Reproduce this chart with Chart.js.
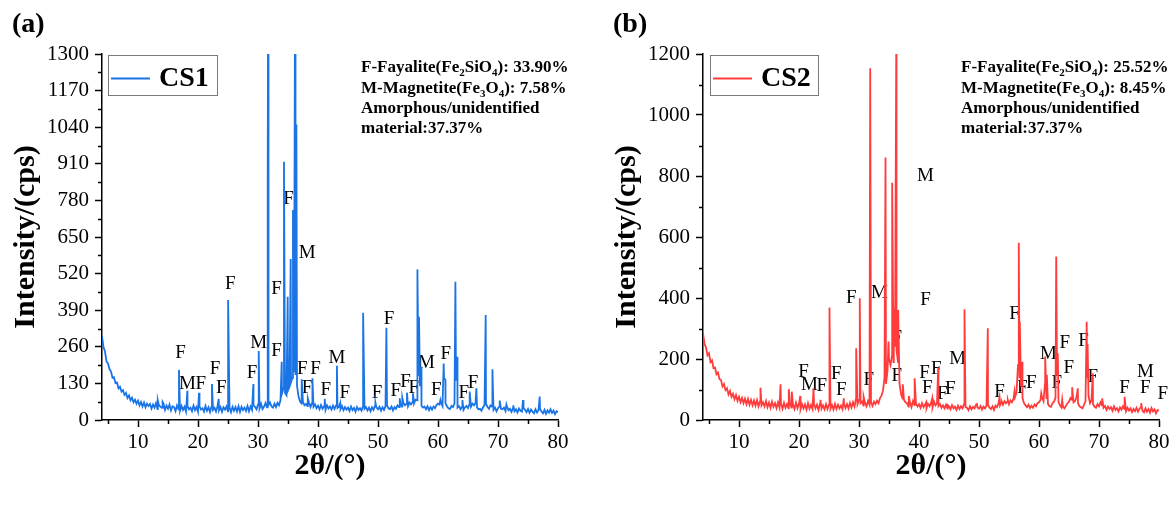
<!DOCTYPE html>
<html>
<head>
<meta charset="utf-8">
<script src="https://cdn.jsdelivr.net/npm/chart.js@4.4.1/dist/chart.umd.min.js"></script>
<style>
  html, body { margin: 0; padding: 0; background: #fff; }
  body { width: 1176px; height: 505px; position: relative; overflow: hidden; }
  canvas { position: absolute; top: 0; }
  #cs1 { left: 0; }
  #cs2 { left: 601px; }
</style>
</head>
<body>
<canvas id="cs1" width="588" height="505"></canvas>
<canvas id="cs2" width="575" height="505"></canvas>
<script>
// ---- 2θ sampling of the background traces ----
const THETA_START = 4;
const THETA_STEP = 0.25;

// ---- axis ticks ----
const xTicks = [10, 20, 30, 40, 50, 60, 70, 80];
const xMinorTicks = [5, 15, 25, 35, 45, 55, 65, 75];
const cs1YTicks = [0, 130, 260, 390, 520, 650, 780, 910, 1040, 1170, 1300];
const cs1YMinorTicks = [65, 195, 325, 455, 585, 715, 845, 975, 1105, 1235];
const cs2YTicks = [0, 200, 400, 600, 800, 1000, 1200];
const cs2YMinorTicks = [100, 300, 500, 700, 900, 1100];

// ---- CS1: background counts, one row per degree (4 points per row) ----
const cs1Background = [
  298,259,243,208,  201,181,172,150,  152,131,133,112,  118,101,106,89,
  96,78,87,70,      79,63,72,58,      69,52,64,48,      62,45,58,50,
  57,41,55,44,      60,39,52,47,      43,58,36,51,      40,55,34,49,
  46,31,52,38,      33,50,36,47,      30,49,38,44,      31,51,35,46,
  29,48,37,42,      30,50,33,45,      28,47,36,43,      30,49,34,46,
  29,45,37,48,      31,44,28,47,      33,46,30,49,      29,47,35,44,
  32,50,31,48,      36,52,47,38,      55,41,58,39,      47,60,45,53,
  62,48,44,58,      46,61,52,70,      94,112,96,88,     105,118,134,150,
  170,160,122,84,   66,58,63,52,      57,49,62,46,      60,47,55,42,
  51,38,53,40,      49,36,52,41,      48,37,51,39,      52,43,47,38,
  49,35,46,37,      44,32,48,35,      43,30,46,36,      42,33,49,40,
  46,34,44,31,      45,36,50,44,      38,47,33,45,      36,49,52,41,
  39,48,34,46,      40,52,46,55,      48,60,52,57,      49,62,55,63,
  58,72,70,160,     120,50,44,48,     38,49,35,46,      37,48,42,53,
  58,55,62,50,      150,60,48,42,     39,50,46,58,      140,44,49,38,
  47,36,45,50,      42,55,47,58,      52,60,45,38,      40,33,45,52,
  58,46,40,52,      48,36,44,31,      42,48,40,38,      44,32,48,35,
  40,29,42,31,      38,27,41,33,      30,43,36,28,      39,26,37,30,
  24,38,27,35,      40,30,24,36,      22,34,26,38,      25,33,21,31,
  28
];

// ---- CS1: diffraction peaks [2θ, counts] ----
const cs1Peaks = [
  [13.3,70],[14.1,64],[16.83,178],[18.23,104],[20.17,97],[22.33,128],[23.45,75],
  [25.02,426],[29.23,128],[30.12,245],[31.62,860],[31.72,1900],[33.95,207],
  [34.33,917],[34.95,438],[35.45,572],[35.83,746],[36.17,1500],[36.4,1050],
  [37.28,145],[38.3,77],[39.07,148],[41.12,75],[43.15,193],[43.7,60],
  [47.52,381],[49.57,62],[51.4,328],[53.62,77],[54.05,80],[54.83,97],[55.83,95],
  [56.57,535],[56.83,367],[57.2,189],[60.4,71],[60.95,201],[61.23,142],
  [62.9,491],[63.23,225],[64.07,71],[65.28,101],[66.4,113],[67.95,373],
  [69.07,180],[70.28,69],[71.4,55],[72.55,52],[74.17,71],[76.95,83]
];

// ---- CS2: background counts, one row per degree (4 points per row) ----
const cs2Background = [
  284,250,238,212,  219,190,196,170,  172,150,156,134,  131,110,118,98,
  104,84,95,76,     86,68,82,63,      76,58,72,55,      70,52,69,50,
  66,48,64,47,      65,45,61,48,      58,44,62,42,      57,40,60,43,
  55,39,58,41,      53,37,56,40,      52,38,55,41,      50,36,57,39,
  53,35,52,38,      51,34,55,37,      49,36,53,38,      50,33,54,37,
  48,35,52,36,      51,37,49,34,      53,36,50,38,      47,35,54,39,
  52,38,56,41,      58,44,70,52,      66,55,60,47,      56,45,62,50,
  58,46,60,52,      63,55,72,80,      96,140,118,160,   200,180,210,190,
  240,230,190,120,  85,70,66,58,      55,44,58,42,      62,49,53,44,
  52,40,55,42,      50,38,53,45,      56,41,60,48,      55,46,52,40,
  48,38,50,37,      46,35,49,38,      44,33,47,36,      45,38,52,42,
  40,32,45,35,      43,38,50,41,      37,46,34,44,      38,47,50,40,
  36,45,33,47,      42,55,48,58,      50,62,55,60,      52,64,58,70,
  75,90,180,140,    110,72,55,48,     42,50,39,47,      40,51,45,55,
  58,66,75,62,      120,72,52,45,     43,55,60,72,      150,58,48,41,
  44,38,47,55,      60,72,66,58,      62,75,55,45,      42,38,50,62,
  140,80,55,65,     52,44,40,52,      45,58,48,40,      46,33,44,36,
  42,30,45,33,      39,28,41,34,      45,36,29,40,      31,38,26,36,
  29,40,27,37,      42,30,25,38,      27,36,24,39,      28,35,22,33,
  30
];

// ---- CS2: diffraction peaks [2θ, counts] ----
const cs2Peaks = [
  [13.58,106],[16.92,117],[18.3,101],[18.8,93],[20.2,79],[22.42,104],[23.58,66],
  [25.08,369],[27.47,71],[29.53,235],[30.13,399],[30.77,76],[31.87,1153],
  [34.42,861],[34.92,257],[35.53,778],[35.8,366],[36.22,1260],[36.53,361],
  [37.3,117],[38.3,79],[39.27,137],[41.2,58],[42.2,71],[43.2,172],[44.8,49],
  [47.58,363],[49.63,55],[51.47,301],[53.42,74],[53.8,60],[54.8,66],[55.92,93],
  [56.63,581],[56.8,322],[57.2,191],[60.37,87],[61.03,208],[61.3,148],
  [62.87,536],[63.13,219],[63.87,66],[65.53,107],[66.47,104],[67.95,322],
  [68.1,250],[68.97,153],[70.53,71],[74.27,76],[77.03,55]
];

// ---- phase markers [2θ, counts, phase] ----
const cs1PhaseMarks = [
  [17.07,239,'F'],[18.23,128,'M'],[20.45,128,'F'],[22.83,180,'F'],[23.9,113,'F'],
  [25.4,482,'F'],[29.0,168,'F'],[30.1,272,'M'],[33.07,464,'F'],[33.07,245,'F'],
  [35.1,784,'F'],[38.2,592,'M'],[37.4,180,'F'],[39.57,180,'F'],[38.17,113,'F'],
  [41.28,107,'F'],[43.17,219,'M'],[44.45,95,'F'],[49.83,97,'F'],[51.83,358,'F'],
  [52.95,104,'F'],[54.6,136,'F'],[55.95,115,'F'],[58.07,204,'M'],[59.73,107,'F'],
  [61.28,234,'F'],[64.28,97,'F'],[65.83,133,'F']
];
const cs2PhaseMarks = [
  [20.75,158,'F'],[21.75,115,'M'],[23.8,112,'F'],[26.2,151,'F'],[27.03,98,'F'],
  [28.7,399,'F'],[33.42,415,'M'],[31.63,131,'F'],[36.3,268,'F'],[36.3,145,'F'],
  [41.08,800,'M'],[41.08,393,'F'],[40.92,153,'F'],[42.87,166,'F'],[41.37,106,'F'],
  [43.87,85,'F'],[45.2,101,'F'],[46.47,199,'M'],[53.42,93,'F'],[55.92,348,'F'],
  [57.2,104,'F'],[58.7,122,'F'],[61.58,216,'M'],[62.97,120,'F'],[64.3,254,'F'],
  [64.97,169,'F'],[67.42,259,'F'],[68.97,142,'F'],[74.25,106,'F'],[77.75,158,'M'],
  [77.7,106,'F'],[80.63,85,'F']
];

// ---- phase composition notes; [text, isSubscript] runs per line ----
const cs1Composition = [
  [['F-Fayalite(Fe',0],['2',1],['SiO',0],['4',1],['): 33.90%',0]],
  [['M-Magnetite(Fe',0],['3',1],['O',0],['4',1],['): 7.58%',0]],
  [['Amorphous/unidentified',0]],
  [['material:37.37%',0]]
];
const cs2Composition = [
  [['F-Fayalite(Fe',0],['2',1],['SiO',0],['4',1],['): 25.52%',0]],
  [['M-Magnetite(Fe',0],['3',1],['O',0],['4',1],['): 8.45%',0]],
  [['Amorphous/unidentified',0]],
  [['material:37.37%',0]]
];

const SERIF = '"Liberation Serif", "Times New Roman", serif';

function buildTrace(background, peaks) {
  const pts = background.map((v, i) => ({ x: THETA_START + i * THETA_STEP, y: v }));
  peaks.forEach(([x, y]) => pts.push({ x, y }));
  pts.sort((a, b) => a.x - b.x);
  return pts;
}

function decorations(cfg) {
  return {
    id: 'xrdDecor',
    beforeDatasetsDraw(chart) {
      const { ctx, chartArea: a, scales: { x, y } } = chart;
      ctx.save();
      // minor ticks
      ctx.strokeStyle = '#000';
      ctx.lineWidth = 1.5;
      ctx.beginPath();
      cfg.xMinor.forEach(v => {
        const px = Math.round(x.getPixelForValue(v)) + 0.5;
        ctx.moveTo(px, a.bottom);
        ctx.lineTo(px, a.bottom + 4);
      });
      cfg.yMinor.forEach(v => {
        const py = Math.round(y.getPixelForValue(v)) + 0.5;
        ctx.moveTo(a.left, py);
        ctx.lineTo(a.left - 4, py);
      });
      ctx.stroke();
      // phase markers
      ctx.fillStyle = '#000';
      ctx.font = '19px ' + SERIF;
      ctx.textAlign = 'center';
      ctx.textBaseline = 'middle';
      cfg.marks.forEach(([vx, vy, t]) => {
        ctx.fillText(t, x.getPixelForValue(vx), y.getPixelForValue(vy));
      });
      ctx.restore();
    },
    afterDraw(chart) {
      const { ctx, chartArea: a } = chart;
      ctx.save();
      ctx.fillStyle = '#000';

      // panel tag
      ctx.font = 'bold 28px ' + SERIF;
      ctx.textAlign = 'left';
      ctx.textBaseline = 'alphabetic';
      ctx.fillText(cfg.tag, cfg.tagX, 32);

      // legend box
      const lg = cfg.legend;
      ctx.strokeStyle = '#7a7a7a';
      ctx.lineWidth = 1;
      ctx.strokeRect(lg.x + 0.5, 55.5, lg.w, 40);
      ctx.strokeStyle = cfg.color;
      ctx.lineWidth = 2;
      ctx.beginPath();
      ctx.moveTo(lg.x + 3, 78.5);
      ctx.lineTo(lg.x + 42, 78.5);
      ctx.stroke();
      ctx.font = 'bold 28px ' + SERIF;
      ctx.fillText(cfg.name, lg.x + 51, 86);

      // composition notes
      const base = [72, 92.5, 113, 133];
      cfg.notes.forEach((runs, i) => {
        let cx = cfg.notesX;
        runs.forEach(([txt, sub]) => {
          ctx.font = sub ? 'bold 11px ' + SERIF : 'bold 17px ' + SERIF;
          ctx.fillText(txt, cx, base[i] + (sub ? 4 : 0));
          cx += ctx.measureText(txt).width;
        });
      });

      // axis titles
      ctx.font = 'bold 30px ' + SERIF;
      ctx.textAlign = 'center';
      ctx.fillText('2\u03B8/(\u00B0)', (a.left + a.right) / 2, 474);
      ctx.save();
      ctx.translate(cfg.yTitleX, (a.top + a.bottom) / 2);
      ctx.rotate(-Math.PI / 2);
      ctx.fillText('Intensity/(cps)', 0, 0);
      ctx.restore();

      ctx.restore();
    }
  };
}

function makePanel(id, cfg) {
  const tickFont = { family: SERIF, size: 21 };
  return new Chart(document.getElementById(id), {
    type: 'line',
    data: {
      datasets: [{
        label: cfg.name,
        data: buildTrace(cfg.background, cfg.peaks),
        borderColor: cfg.color,
        borderWidth: 1.8,
        pointRadius: 0,
        tension: 0,
        fill: false
      }]
    },
    options: {
      responsive: false,
      animation: false,
      events: [],
      parsing: false,
      layout: { padding: { left: 42, right: cfg.padRight, top: 54, bottom: 35 } },
      plugins: { legend: { display: false }, tooltip: { enabled: false } },
      scales: {
        x: {
          type: 'linear',
          min: 4, max: 80,
          afterBuildTicks: s => { s.ticks = xTicks.map(v => ({ value: v })); },
          afterFit: s => { s.height = 50; },
          ticks: { font: tickFont, color: '#000', padding: 3, maxRotation: 0, autoSkip: false,
                   callback: v => String(v) },
          grid: { drawOnChartArea: false, drawTicks: true, tickLength: 7, tickColor: '#000', tickWidth: 1.5 },
          border: { display: true, color: '#000', width: 1.5 }
        },
        y: {
          type: 'linear',
          min: 0, max: cfg.yMax,
          afterBuildTicks: s => { s.ticks = cfg.yTicks.map(v => ({ value: v })); },
          afterFit: s => { s.width = 60; },
          ticks: { font: tickFont, color: '#000', padding: 6, autoSkip: false,
                   callback: v => String(v) },
          grid: { drawOnChartArea: false, drawTicks: true, tickLength: 7, tickColor: '#000', tickWidth: 1.5 },
          border: { display: true, color: '#000', width: 1.5 }
        }
      }
    },
    plugins: [decorations(cfg)]
  });
}

makePanel('cs1', {
  name: 'CS1', tag: '(a)', tagX: 12, color: '#1a74e6',
  background: cs1Background, peaks: cs1Peaks, marks: cs1PhaseMarks,
  yMax: 1300, yTicks: cs1YTicks, yMinor: cs1YMinorTicks, xMinor: xMinorTicks,
  notes: cs1Composition, notesX: 361, legend: { x: 108, w: 109 },
  yTitleX: 34, padRight: 30
});

makePanel('cs2', {
  name: 'CS2', tag: '(b)', tagX: 12, color: '#ff3b3b',
  background: cs2Background, peaks: cs2Peaks, marks: cs2PhaseMarks,
  yMax: 1200, yTicks: cs2YTicks, yMinor: cs2YMinorTicks, xMinor: xMinorTicks,
  notes: cs2Composition, notesX: 360, legend: { x: 109, w: 108 },
  yTitleX: 34, padRight: 17
});
</script>
</body>
</html>
